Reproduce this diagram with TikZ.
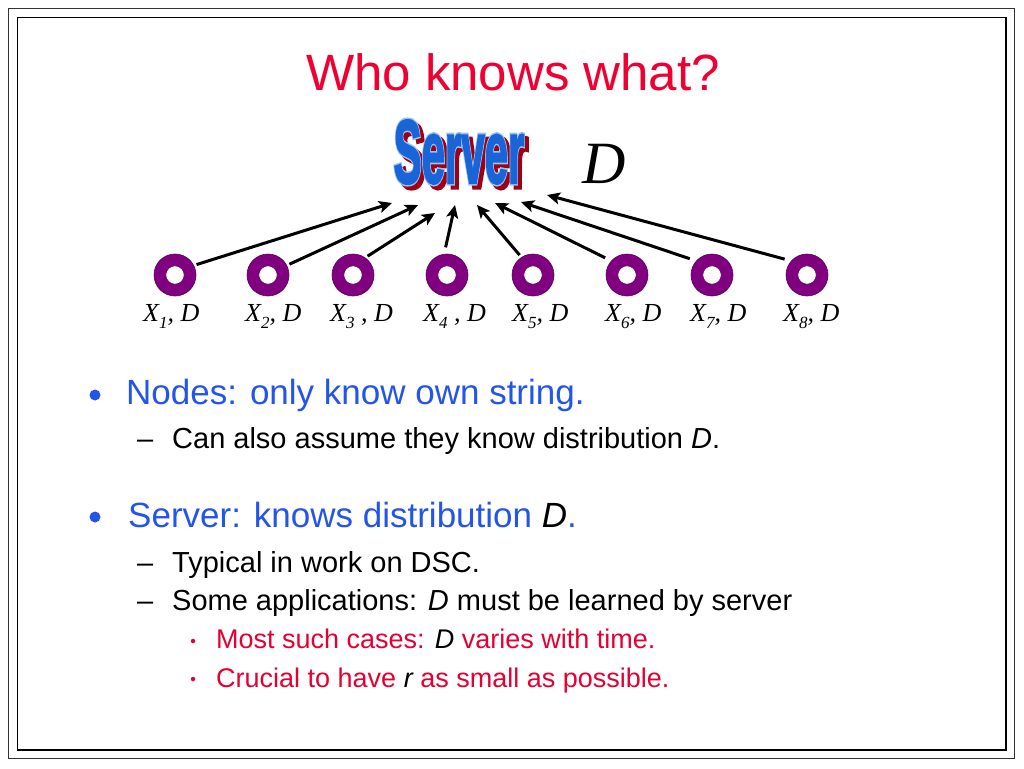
\documentclass[tikz,border=0pt]{standalone}
\usepackage{fontspec}
\setmainfont{Liberation Sans}
\newfontfamily\tms{Liberation Serif}
\newfontfamily\srvmain[FakeBold=2.5]{Liberation Sans Bold}
\newfontfamily\srvedge[FakeBold=6]{Liberation Sans Bold}
\usetikzlibrary{arrows.meta}
\definecolor{titlered}{RGB}{240,0,50}
\definecolor{bodyblue}{RGB}{35,85,235}
\definecolor{subred}{RGB}{228,0,50}
\definecolor{ringpurple}{RGB}{128,0,128}
\definecolor{srvblue}{RGB}{25,100,215}
\definecolor{srvlight}{RGB}{150,195,245}
\definecolor{srvshadow}{RGB}{160,0,20}
\newcommand\srvword[1]{\scalebox{0.7}[1.5]{\fontsize{60}{60}#1\selectfont Server}}
\tikzset{
  ring/.style={circle, fill=ringpurple, draw=ringpurple!70!black, line width=0.6pt, minimum size=42pt, inner sep=0pt, outer sep=0pt,
    path picture={\filldraw[fill=white, draw=ringpurple!70!black, line width=0.6pt] (path picture bounding box.center) circle (9.2pt);}},
  arr/.style={-{Stealth[length=13pt,width=12pt,inset=3pt]}, line width=3pt, black},
  lab/.style={anchor=base west, inner sep=0pt, font=\tms\itshape\fontsize{26}{30}\selectfont},
  lvlone/.style={anchor=base west, inner sep=0pt, text=bodyblue, font=\fontsize{35}{42}\selectfont},
  lvltwo/.style={anchor=base west, inner sep=0pt, text=black, font=\fontsize{29}{35}\selectfont},
  lvlthree/.style={anchor=base west, inner sep=0pt, text=subred, font=\fontsize{27}{32}\selectfont},
  bigdot/.style={circle, fill=bodyblue, minimum size=11pt, inner sep=0pt},
  smalldot/.style={circle, fill=subred, minimum size=4.5pt, inner sep=0pt},
  srv/.style={anchor=base, inner sep=0pt}
}
\begin{document}
\begin{tikzpicture}[x=1pt,y=-1pt]
\useasboundingbox (0,0) rectangle (1024,768);
% frame
\draw[line width=1.5pt, black!80] (8.5,8.5) rectangle (1014.5,758.5);
\draw[line width=1.5pt, black] (17.5,17.5) rectangle (1006,750);
% title
\node[anchor=base, inner sep=0pt, text=titlered, font=\fontsize{51}{60}\selectfont] (title) at (513,90) {Who knows what?};
% server word art
\node[srv, text=srvshadow] (srvsh) at (463,187) {\srvword{\srvedge}};
\node[srv, text=srvlight] (srvedge) at (459,183) {\srvword{\srvedge}};
\node[srv, text=srvblue] (server) at (459,183) {\srvword{\srvmain}};
\node[anchor=base west, inner sep=0pt, font=\tms\itshape\fontsize{60}{60}\selectfont] (bigD) at (582,183) {D};
% rings
\node[ring] (r1) at (175,275) {};
\node[ring] (r2) at (268,275) {};
\node[ring] (r3) at (353,275) {};
\node[ring] (r4) at (447,275) {};
\node[ring] (r5) at (533,275) {};
\node[ring] (r6) at (627,275) {};
\node[ring] (r7) at (712,275) {};
\node[ring] (r8) at (807,275) {};
% labels
\node[lab] (l1) at (143,321) {X\raisebox{-0.28em}{\fontsize{17}{17}\selectfont 1}, D};
\node[lab] (l2) at (245,321) {X\raisebox{-0.28em}{\fontsize{17}{17}\selectfont 2}, D};
\node[lab] (l3) at (330,321) {X\raisebox{-0.28em}{\fontsize{17}{17}\selectfont 3} , D};
\node[lab] (l4) at (423,321) {X\raisebox{-0.28em}{\fontsize{17}{17}\selectfont 4} , D};
\node[lab] (l5) at (512,321) {X\raisebox{-0.28em}{\fontsize{17}{17}\selectfont 5}, D};
\node[lab] (l6) at (605,321) {X\raisebox{-0.28em}{\fontsize{17}{17}\selectfont 6}, D};
\node[lab] (l7) at (690,321) {X\raisebox{-0.28em}{\fontsize{17}{17}\selectfont 7}, D};
\node[lab] (l8) at (783,321) {X\raisebox{-0.28em}{\fontsize{17}{17}\selectfont 8}, D};
% arrow tips
\coordinate (t1) at (392,203);
\coordinate (t2) at (418,205);
\coordinate (t3) at (435,213);
\coordinate (t4) at (455,205);
\coordinate (t5) at (477,205);
\coordinate (t6) at (495,203);
\coordinate (t7) at (521,202);
\coordinate (t8) at (547,195);
\draw[arr, shorten <=3pt] (r1.27) -- (t1);
\draw[arr, shorten <=3pt] (r2.27) -- (t2);
\draw[arr, shorten <=3pt] (r3.55) -- (t3);
\draw[arr, shorten <=7pt] (r4.98) -- (t4);
\draw[arr, shorten <=3pt] (r5.123) -- (t5);
\draw[arr, shorten <=7pt] (r6.138) -- (t6);
\draw[arr, shorten <=7pt] (r7.138) -- (t7);
\draw[arr, shorten <=7pt] (r8.138) -- (t8);
% bullets
\node[bigdot] (b1) at (95,395) {};
\node[lvlone] (p1) at (126,404) {Nodes: only know own string.};
\node[lvltwo] (m1) at (137,448) {–};
\node[lvltwo] (p2) at (172,448) {Can also assume they know distribution {\itshape D}.};
\node[bigdot] (b2) at (95,517) {};
\node[lvlone] (p3) at (128,527) {Server: knows distribution {\color{black}\itshape D}.};
\node[lvltwo] (m2) at (137,572) {–};
\node[lvltwo] (p4) at (172,572) {Typical in work on DSC.};
\node[lvltwo] (m3) at (137,610) {–};
\node[lvltwo] (p5) at (172,610) {Some applications: {\itshape D} must be learned by server};
\node[smalldot] (s1) at (193,641) {};
\node[lvlthree] (p6) at (216,648) {Most such cases: {\color{black}\itshape D} varies with time.};
\node[smalldot] (s2) at (193,679) {};
\node[lvlthree] (p7) at (216,687) {Crucial to have {\color{black}\itshape r} as small as possible.};
\end{tikzpicture}
\end{document}
